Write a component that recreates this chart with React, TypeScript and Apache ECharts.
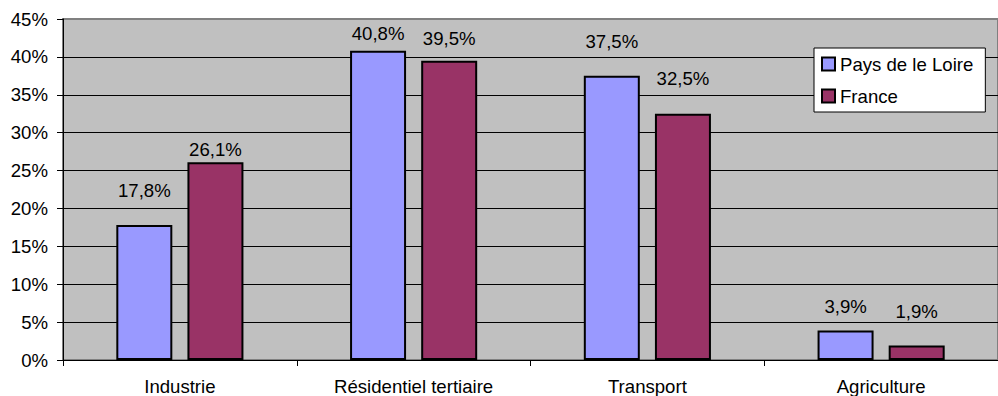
import React, { useEffect, useRef } from "react";
import * as echarts from "echarts";

const categories = ["Industrie", "Résidentiel tertiaire", "Transport", "Agriculture"];
const seriesNames = ["Pays de le Loire", "France"];
const paysDeLaLoire = [17.8, 40.8, 37.5, 3.9];
const france = [26.1, 39.5, 32.5, 1.9];
const yTicks = { min: 0, max: 45, interval: 5 };

// label lift (px) above each bar, as placed in the reference
const paysLabelLift = [25, 8, 25, 14];
const franceLabelLift = [3, 13, 26, 25];

const FONT = "Liberation Sans, Arial, sans-serif";
const FS = 18.6;

const fmt = (v: number) => v.toFixed(1).replace(".", ",") + "%";

export default function App() {
  const ref = useRef<HTMLDivElement>(null);
  useEffect(() => {
    if (!ref.current) return;
    const chart = echarts.init(ref.current, null, { renderer: "svg" });
    const mk = (name: string, vals: number[], lifts: number[], color: string) => ({
      name,
      type: "bar",
      barWidth: 56,
      barGap: "27%",
      itemStyle: { color, borderColor: "#000000", borderWidth: 2 },
      label: {
        show: true,
        position: "top",
        color: "#000000",
        fontFamily: FONT,
        fontSize: FS,
        formatter: (p: any) => fmt(p.value),
      },
      data: vals.map((v, i) => ({ value: v, label: { distance: lifts[i] } })),
    });
    chart.setOption({
      animation: false,
      backgroundColor: "#ffffff",
      textStyle: { fontFamily: FONT },
      grid: {
        left: 63,
        top: 19,
        bottom: 35,
        right: -10,
        show: true,
        backgroundColor: "#C0C0C0",
        borderColor: "#808080",
        borderWidth: 2,
      },
      legend: {
        orient: "vertical",
        left: 814,
        top: 48,
        padding: [6, 12, 6, 7],
        itemWidth: 13,
        itemHeight: 13,
        itemGap: 12,
        icon: "rect",
        backgroundColor: "#ffffff",
        borderColor: "#000000",
        borderWidth: 1,
        textStyle: { fontFamily: FONT, fontSize: FS, color: "#000000", lineHeight: 20 },
        data: seriesNames,
      },
      xAxis: {
        type: "category",
        data: categories,
        axisLine: { show: true, lineStyle: { color: "#000000", width: 1 } },
        axisTick: { show: true, length: 6, lineStyle: { color: "#000000" } },
        axisLabel: { color: "#000000", fontFamily: FONT, fontSize: FS, margin: 17 },
        splitLine: { show: false },
      },
      yAxis: {
        type: "value",
        min: yTicks.min,
        max: yTicks.max,
        interval: yTicks.interval,
        axisLine: { show: true, lineStyle: { color: "#000000", width: 1 } },
        axisTick: { show: true, length: 6, lineStyle: { color: "#000000" } },
        axisLabel: {
          color: "#000000",
          fontFamily: FONT,
          fontSize: FS,
          margin: 15,
          formatter: (v: number) => `${v}%`,
        },
        splitLine: {
          show: true,
          lineStyle: {
            color: ["#000000", "#000000", "#000000", "#000000", "#000000", "#000000", "#000000", "#000000", "#000000", "#808080"],
            width: 1,
          },
        },
      },
      series: [
        mk(seriesNames[0], paysDeLaLoire, paysLabelLift, "#9999FF"),
        mk(seriesNames[1], france, franceLabelLift, "#993366"),
      ],
    });
    return () => chart.dispose();
  }, []);
  return (
    <div
      ref={ref}
      style={{ position: "fixed", left: 0, top: 0, width: 998, height: 396, background: "#fff" }}
    />
  );
}
